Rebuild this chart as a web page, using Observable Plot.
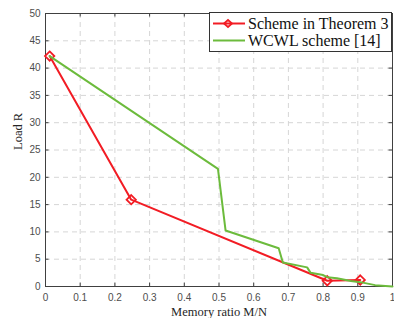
<!DOCTYPE html>
<html><head><meta charset="utf-8">
<script src="https://cdn.jsdelivr.net/npm/d3@7"></script>
<script src="https://cdn.jsdelivr.net/npm/@observablehq/plot@0.6"></script>
<style>
html,body{margin:0;padding:0;background:#fff;}
#wrap{position:relative;width:394px;height:318px;}
#legend{position:absolute;left:209px;top:12px;width:183px;height:40px;border:1px solid #333;background:#fff;box-sizing:border-box;font-family:"Liberation Serif","Times New Roman",serif;font-size:16px;color:#111;}
.row{position:absolute;left:2px;height:17px;display:flex;align-items:center;white-space:nowrap;}
.row svg{margin-right:3px;}
</style></head>
<body><div id="wrap"></div>
<script>
// ----- data -----
const seriesNames = ["Scheme in Theorem 3", "WCWL scheme [14]"];
const redX = [0.012, 0.247, 0.812, 0.907];
const redY = [42.2, 15.9, 1.05, 1.2];
const greenX = [0.012, 0.497, 0.519, 0.672, 0.684, 0.754, 0.764, 0.80, 0.812, 0.84, 0.88, 0.907, 0.95, 1.0];
const greenY = [42.2, 21.55, 10.25, 7.0, 4.4, 3.5, 2.5, 2.1, 1.7, 1.5, 1.0, 0.8, 0.25, 0.0];
const xTicks = [0, 0.1, 0.2, 0.3, 0.4, 0.5, 0.6, 0.7, 0.8, 0.9, 1];
const xTickLabels = ["0", "0.1", "0.2", "0.3", "0.4", "0.5", "0.6", "0.7", "0.8", "0.9", "1"];
const yTicks = [0, 5, 10, 15, 20, 25, 30, 35, 40, 45, 50];
const xLabel = "Memory ratio M/N";
const yLabel = "Load R";

const red = redX.map((x, i) => ({x, y: redY[i]}));
const green = greenX.map((x, i) => ({x, y: greenY[i]}));

const W = 394, H = 318, mL = 45, mR = 2, mT = 13, mB = 32;
const fw = W - mL - mR, fh = H - mT - mB;
const RED = "#f21c24", GREEN = "#6cbb3c", AX = "#404040", GRID = "#d6d6d6";
const TL = 3.5;

const chart = Plot.plot({
  width: W, height: H,
  marginLeft: mL, marginRight: mR, marginTop: mT, marginBottom: mB,
  style: {fontFamily: "'Liberation Sans', Arial, sans-serif", fontSize: "10px", color: "#4d4d4d", background: "white"},
  x: {domain: [0, 1]},
  y: {domain: [0, 50]},
  marks: [
    Plot.gridX(xTicks, {stroke: GRID, strokeOpacity: 1, strokeDasharray: "5,4"}),
    Plot.gridY(yTicks, {stroke: GRID, strokeOpacity: 1, strokeDasharray: "5,4"}),
    Plot.axisX(xTicks, {tickSize: 0, tickPadding: 7, tickFormat: d => xTickLabels[xTicks.indexOf(d)], label: null, fill: "#4d4d4d"}),
    Plot.axisY(yTicks, {tickSize: 0, tickPadding: 5, label: null, fill: "#4d4d4d"}),
    Plot.tickX(xTicks, {x: d => d, insetTop: fh - TL, stroke: AX}),
    Plot.tickX(xTicks, {x: d => d, insetBottom: fh - TL, stroke: AX}),
    Plot.tickY(yTicks, {y: d => d, insetRight: fw - TL, stroke: AX}),
    Plot.tickY(yTicks, {y: d => d, insetLeft: fw - TL, stroke: AX}),
    Plot.frame({stroke: AX}),
    Plot.text([xLabel], {frameAnchor: "bottom", dy: 25, lineAnchor: "middle", fontFamily: "'Liberation Serif', 'Times New Roman', serif", fontSize: 12.5, fill: "#262626"}),
    Plot.text([yLabel], {frameAnchor: "left", dx: -28, rotate: -90, lineAnchor: "middle", fontFamily: "'Liberation Serif', 'Times New Roman', serif", fontSize: 12.5, fill: "#262626"}),
    Plot.line(red, {x: "x", y: "y", stroke: RED, strokeWidth: 2}),
    Plot.dot(red, {x: "x", y: "y", symbol: "diamond2", r: 4.2, stroke: RED, strokeWidth: 1.8, fill: "none"}),
    Plot.line(green, {x: "x", y: "y", stroke: GREEN, strokeWidth: 2})
  ]
});
const wrap = document.getElementById("wrap");
wrap.appendChild(chart);

// legend overlay
const leg = document.createElement("div");
leg.id = "legend";
const cols = [RED, GREEN];
seriesNames.forEach((name, i) => {
  const row = document.createElement("div");
  row.className = "row";
  row.style.top = (2 + i * 17.3) + "px";
  const marker = i === 0 ? `<path d="M16,12 L20,8.5 L16,5 L12,8.5 Z" fill="none" stroke="${RED}" stroke-width="1.8"/>` : "";
  row.innerHTML = `<svg width="33" height="17"><line x1="1" x2="33" y1="8.5" y2="8.5" stroke="${cols[i]}" stroke-width="2"/>${marker}</svg><span>${name}</span>`;
  leg.appendChild(row);
});
wrap.appendChild(leg);
</script>
</body></html>
